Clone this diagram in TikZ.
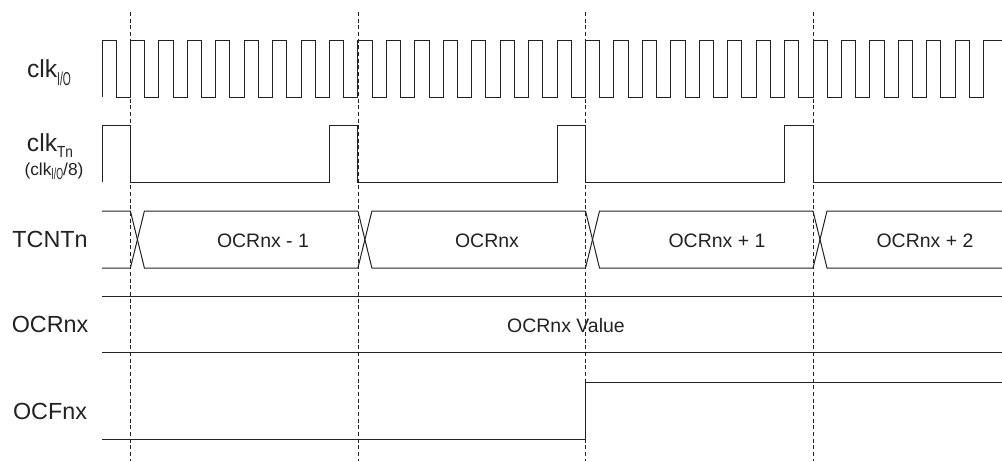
\documentclass[tikz,border=0pt]{standalone}
\usepackage{fontspec}
\setmainfont{Liberation Sans}
\usepackage{graphicx}
\definecolor{ink}{HTML}{222222}
\newcommand{\mysub}[4]{\raisebox{-#1}{\fontsize{#2}{#2}\selectfont\scalebox{#3}[1]{#4}}}
\begin{document}
\begin{tikzpicture}[x=0.75pt,y=-0.75pt,
  sig/.style={draw=ink,line width=0.75pt,line join=miter},
  guide/.style={draw=ink,line width=0.6pt,dash pattern=on 3pt off 2pt},
  lbl/.style={anchor=base,text=ink,font=\fontsize{17.5}{20}\selectfont,inner sep=0pt},
  val/.style={anchor=base,text=ink,font=\fontsize{14.6}{17}\selectfont,inner sep=0pt}]
\useasboundingbox (0,0) rectangle (1002,461);
\fill[white] (0,0) rectangle (1002,461);
% guides
\foreach \t [count=\i] in {130.4,357.9,585.5,813} {
  \coordinate (gt\i) at (\t,12);
  \coordinate (gb\i) at (\t,461);
  \draw[guide] (gt\i) -- (gb\i);
}
% clk I/O
\draw[sig] (102,97)
  \foreach \k in {0,...,30} { -- ({102+28.44*\k},97) -- ({102+28.44*\k},40) -- ({116.22+28.44*\k},40) -- ({116.22+28.44*\k},97) }
  -- (983.6,97) -- (983.6,40) -- (1002,40);
% clk Tn
\draw[sig] (102,182) -- (102,125) -- (130.4,125) -- (130.4,182)
  -- (329.5,182) -- (329.5,125) -- (357.9,125) -- (357.9,182)
  -- (557,182) -- (557,125) -- (585.5,125) -- (585.5,182)
  -- (784.5,182) -- (784.5,125) -- (813,125) -- (813,182) -- (1002,182);
% TCNTn bus
\draw[sig] (102,211) -- (130.4,211) -- (144.4,268) -- (357.9,268) -- (371.9,211)
  -- (585.5,211) -- (599.5,268) -- (813,268) -- (827,211) -- (1002,211);
\draw[sig] (102,268) -- (130.4,268) -- (144.4,211) -- (357.9,211) -- (371.9,268)
  -- (585.5,268) -- (599.5,211) -- (813,211) -- (827,268) -- (1002,268);
% OCRnx
\draw[sig] (102,296) -- (1002,296);
\draw[sig] (102,352.7) -- (1002,352.7);
% OCFnx
\draw[sig] (102,439) -- (585.5,439) -- (585.5,382.3) -- (1002,382.3);
% left labels
\node[anchor=base,text=ink,inner sep=0pt,font=\fontsize{18.5}{20}\selectfont] (lclkio) at (49,77) {clk\mysub{6pt}{14}{0.55}{I/O}};
\node[anchor=base,text=ink,inner sep=0pt,font=\fontsize{18.5}{20}\selectfont] (lclktn) at (50,151) {clk\mysub{4.5pt}{12}{0.85}{Tn}};
\node[anchor=base,text=ink,inner sep=0pt,font=\fontsize{13}{15}\selectfont] (lpar) at (54,175) {(clk\mysub{3.5pt}{12}{0.55}{I/O}/8)};
\node[lbl] (ltcnt) at (50,247.5) {TCNTn};
\node[lbl] (locr) at (50,332.7) {OCRnx};
\node[lbl] (locf) at (50,419) {OCFnx};
% values
\node[val] (v1) at (263,247) {OCRnx - 1};
\node[val] (v2) at (487,247) {OCRnx};
\node[val] (v3) at (717,247) {OCRnx + 1};
\node[val] (v4) at (925,247) {OCRnx + 2};
\node[val] (vo) at (566,332) {OCRnx Value};
\end{tikzpicture}
\end{document}
